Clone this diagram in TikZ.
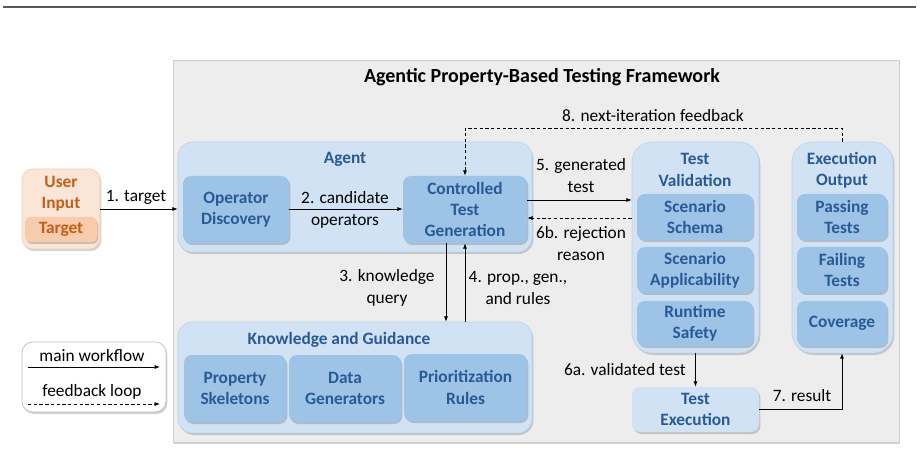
\documentclass[tikz,border=0pt]{standalone}
\usepackage{fontspec}
\setmainfont{Carlito}
\usetikzlibrary{arrows.meta,shadows,fit}
\definecolor{frameGray}{HTML}{EDEDED}
\definecolor{frameBorder}{HTML}{CFCFCF}
\definecolor{lightBlue}{HTML}{D0E2F3}
\definecolor{lightBlueBorder}{HTML}{BDD5EC}
\definecolor{midBlue}{HTML}{9DC3E6}
\definecolor{darkBlue}{HTML}{2A5A96}
\definecolor{orangeFill}{HTML}{FBE5D6}
\definecolor{orangeBorder}{HTML}{F6CFAF}
\definecolor{orangeMid}{HTML}{F8CBAD}
\definecolor{orangeText}{HTML}{C0601A}
\definecolor{lineGray}{HTML}{5A5A5A}
\tikzset{
  shd/.style={drop shadow={shadow xshift=1pt,shadow yshift=-1.5pt,opacity=0.3,fill=black!60}},
  frame/.style={fill=frameGray,draw=frameBorder,line width=0.6pt,inner sep=0pt,shd},
  container/.style={rounded corners=11pt,fill=lightBlue,draw=lightBlueBorder,line width=0.5pt,inner sep=0pt,shd},
  tallcont/.style={container,rounded corners=15pt},
  sub/.style={rounded corners=6pt,fill=midBlue,draw=none,inner sep=0pt,shd,
    text=darkBlue,font=\fontsize{13}{16}\selectfont\bfseries,align=center},
  lightsub/.style={sub,fill=lightBlue},
  ttl/.style={text=darkBlue,font=\fontsize{13}{16}\selectfont\bfseries,align=center,inner sep=0pt},
  lbl/.style={text=black,font=\fontsize{13}{15.5}\selectfont,align=center,inner sep=0pt},
  flow/.style={draw=black,line width=0.6pt,-{Latex[length=4pt,width=3pt]}},
  fb/.style={flow,dashed,dash pattern=on 2.5pt off 1.8pt},
}
\begin{document}
\begin{tikzpicture}[x=0.75pt,y=-0.75pt]
\useasboundingbox (0,0) rectangle (921,452);
% top rule
\draw[lineGray,line width=1.6pt] (3,7) -- (916,7);
% framework
\node[frame,fit={(173,60) (899,442)}] (fw) {};
\node[text=black,font=\fontsize{15}{18}\selectfont\bfseries,inner sep=0pt] (fwt) at (542,77) {Agentic Property-Based Testing Framework};
% user input
\node[rounded corners=8pt,fill=orangeFill,draw=orangeBorder,line width=0.5pt,inner sep=0pt,shd,fit={(22,169) (100,249)}] (ui) {};
\node[text=orangeText,font=\fontsize{13}{16}\selectfont\bfseries,align=center,inner sep=0pt] (uit) at (61,194) {User\\Input};
\node[rounded corners=4pt,fill=orangeMid,draw=none,inner sep=0pt,shd,minimum width=54pt,minimum height=18.75pt,
  text=orangeText,font=\fontsize{13}{16}\selectfont\bfseries] (tg) at (61,229.5) {Target};
% agent
\node[container,fit={(178,142) (532,252)}] (ag) {};
\node[ttl] (agt) at (345,159) {Agent};
\node[sub,minimum width=79.5pt,minimum height=50.25pt] (od) at (236,209.5) {Operator\\Discovery};
\node[sub,minimum width=93pt,minimum height=50.25pt] (ctg) at (465,209.5) {Controlled\\Test\\Generation};
% knowledge
\node[container,fit={(178,322) (532,433)}] (kg) {};
\node[ttl] (kgt) at (339,340) {Knowledge and Guidance};
\node[sub,minimum width=76.5pt,minimum height=50.25pt] (ps) at (235,388.5) {Property\\Skeletons};
\node[sub,minimum width=84pt,minimum height=50.25pt] (dg) at (345,388.5) {Data\\Generators};
\node[sub,minimum width=92.25pt,minimum height=50.25pt] (pr) at (465.5,387.5) {Prioritization\\Rules};
% test validation
\node[tallcont,fit={(632,142) (759,353)}] (tv) {};
\node[ttl] (tvt) at (695,170) {Test\\Validation};
\node[sub,minimum width=87pt,minimum height=34.5pt] (ss) at (695,217) {Scenario\\Schema};
\node[sub,minimum width=87pt,minimum height=34.5pt] (sa) at (695,270) {Scenario\\Applicability};
\node[sub,minimum width=87pt,minimum height=33.75pt] (rs) at (695,323.5) {Runtime\\Safety};
% execution output
\node[tallcont,fit={(792,142) (893,353)}] (eo) {};
\node[ttl] (eot) at (842,170) {Execution\\Output};
\node[sub,minimum width=67.5pt,minimum height=34.5pt] (pt) at (842,217) {Passing\\Tests};
\node[sub,minimum width=67.5pt,minimum height=34.5pt] (ft) at (842,270) {Failing\\Tests};
\node[sub,minimum width=67.5pt,minimum height=33.75pt] (cv) at (842,323.5) {Coverage};
% test execution
\node[lightsub,minimum width=95.25pt,minimum height=33.75pt] (te) at (695.5,409.5) {Test\\Execution};
% legend
\node[rounded corners=8pt,fill=white,draw=black!25,line width=0.5pt,inner sep=0pt,shd,fit={(22,342) (166,412)}] (lg) {};
\node[lbl] (lg1) at (92,356) {main workflow};
\node[lbl] (lg2) at (92,392) {feedback loop};
\coordinate (l1a) at (28,367); \coordinate (l1b) at (160,367);
\coordinate (l2a) at (28,404); \coordinate (l2b) at (160,404);
\draw[flow] (l1a) -- (l1b);
\draw[fb] (l2a) -- (l2b);
% 1
\draw[flow] (ui.east |- 0,209) -- (ag.west |- 0,209);
\node[lbl] (a1) at (136,197) {1. target};
% 2
\draw[flow] (od.east |- 0,209) -- (ctg.west |- 0,209);
\node[lbl] (a2) at (345,210) {2. candidate\\[1pt]operators};
% 3
\draw[flow] (ctg.south -| 446,0) -- (kg.north -| 446,0);
\node[lbl] (a3) at (387,288) {3. knowledge\\[1pt]query};
% 4
\draw[flow] (kg.north -| 465,0) -- (ctg.south -| 465,0);
\node[lbl] (a4) at (518,288) {4. prop., gen.,\\[1pt]and rules};
% 5
\draw[flow] (ctg.east |- 0,200) -- (tv.west |- 0,200);
\node[lbl] (a5) at (581,176) {5. generated\\[1pt]test};
% 6b
\draw[fb] (tv.west |- 0,218) -- (ctg.east |- 0,218);
\node[lbl] (a6b) at (581,244) {6b. rejection\\[1pt]reason};
% 6a
\draw[flow] (tv.south -| te.north) -- (te.north);
\node[lbl,anchor=east] (a6a) at (686,370) {6a. validated test};
% 7
\coordinate (c7) at (842,409);
\draw[flow] (te.east |- c7) -- (c7) -- (eo.south -| c7);
\node[lbl] (a7) at (802,396) {7. result};
% 8
\coordinate (c8) at (842,128);
\draw[fb] (eo.north -| c8) -- (c8) -| (ctg.north);
\node[lbl] (a8) at (653,116) {8. next-iteration feedback};
\end{tikzpicture}
\end{document}
